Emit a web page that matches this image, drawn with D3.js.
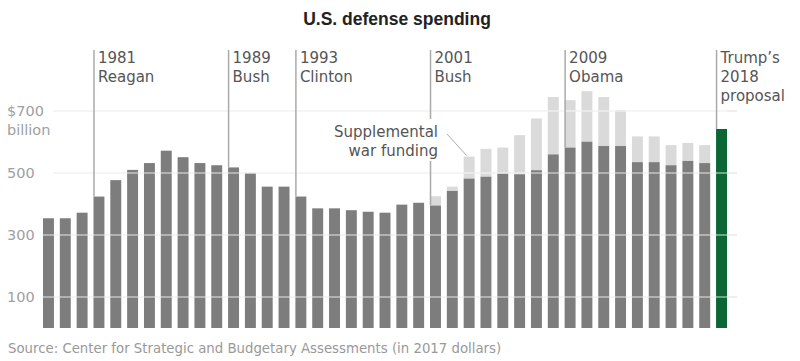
<!DOCTYPE html>
<html><head><meta charset="utf-8">
<script src="https://cdn.jsdelivr.net/npm/d3@7"></script>
<style>
body{margin:0;background:#fff;}
svg{display:block;}
</style></head>
<body><svg id="c" width="800" height="361"></svg>
<script>
const years = d3.range(1978, 2019);
const baseSpending = [354,354,372,424,477,510,532,572,551,532,525,518,499,456,456,424,386,386,380,375,372,398,404,395,442,482,488,498,496,509,560,582,601,587,587,535,535,525,539,532,642];
const warFunding   = [0,0,0,0,0,0,0,0,0,0,0,0,0,0,0,0,0,0,0,0,0,0,0,30,14,71,90,84,126,167,185,153,163,158,116,83,83,65,58,58,0];
const tickValues = [100,300,500,700];
const tickLabels = ["100","300","500","$700"];
const presidents = [
  {year:1981, lines:["1981","Reagan"]},
  {year:1989, lines:["1989","Bush"]},
  {year:1993, lines:["1993","Clinton"]},
  {year:2001, lines:["2001","Bush"]},
  {year:2009, lines:["2009","Obama"]},
  {year:2018, lines:["Trump\u2019s","2018","proposal"]}
];
const proposalYear = 2018;

const data = years.map((y,i)=>({year:y, base:baseSpending[i], war:warFunding[i]}));

const svg = d3.select("#c");
const FONT = "'DejaVu Sans', sans-serif";

const x = d3.scaleBand().domain(years).range([43, 727]).paddingInner(0.35).paddingOuter(0);
const y = d3.scaleLinear().domain([0,700]).range([328,111]);

// title
svg.append("text").attr("x",397).attr("y",25).attr("text-anchor","middle")
  .attr("font-family","'Liberation Sans', Arial, sans-serif").attr("font-weight","bold")
  .attr("font-size",17.5).attr("fill","#222").text("U.S. defense spending");

// gridlines behind
svg.append("g").selectAll("line").data(tickValues).join("line")
  .attr("x1",53).attr("x2",737).attr("y1",d=>y(d)).attr("y2",d=>y(d))
  .attr("stroke","#e8e8e8").attr("stroke-width",1.5);

// tick labels
svg.append("g").selectAll("text").data(tickValues).join("text")
  .attr("x",7).attr("y",d=>y(d)).attr("dy","0.36em")
  .attr("font-family",FONT).attr("font-size",14.5).attr("fill","#a0a0a0")
  .text((d,i)=>tickLabels[i]);
svg.append("text").attr("x",7).attr("y",y(700)+24).attr("font-family",FONT)
  .attr("font-size",14.5).attr("fill","#a0a0a0").text("billion");

// war funding (stacked on top)
svg.append("g").selectAll("rect").data(data.filter(d=>d.war>0)).join("rect")
  .attr("x",d=>x(d.year)).attr("width",x.bandwidth())
  .attr("y",d=>y(d.base+d.war)).attr("height",d=>y(d.base)-y(d.base+d.war))
  .attr("fill","#dadada");

// base bars
svg.append("g").selectAll("rect").data(data).join("rect")
  .attr("x",d=>x(d.year)).attr("width",x.bandwidth())
  .attr("y",d=>y(d.base)).attr("height",d=>y(0)-y(d.base))
  .attr("fill",d=>d.year===proposalYear?"#0a6634":"#7d7d7d");

// gridlines over bars
svg.append("g").selectAll("line").data(tickValues).join("line")
  .attr("x1",43).attr("x2",727).attr("y1",d=>y(d)).attr("y2",d=>y(d))
  .attr("stroke","#fff").attr("stroke-opacity",0.55).attr("stroke-width",1.5);

// president annotation lines & labels
const ann = svg.append("g");
presidents.forEach(p=>{
  const d = data.find(e=>e.year===p.year);
  const lx = x(p.year)+0.5;
  if(p.year===2001){
    ann.append("line").attr("x1",lx).attr("x2",lx).attr("y1",50).attr("y2",119)
      .attr("stroke","#aaa").attr("stroke-width",1.5);
    ann.append("line").attr("x1",lx).attr("x2",lx).attr("y1",161).attr("y2",y(d.base))
      .attr("stroke","#aaa").attr("stroke-width",1.5);
  } else {
    ann.append("line").attr("x1",lx).attr("x2",lx).attr("y1",50).attr("y2",y(d.base))
      .attr("stroke","#aaa").attr("stroke-width",1.5);
  }
  const t = ann.append("text").attr("font-family",FONT).attr("font-size",15)
    .attr("fill","#555");
  p.lines.forEach((l,i)=>{
    t.append("tspan").attr("x",lx+4).attr("y",63+i*19).text(l);
  });
});

// supplemental war funding label
const s = svg.append("text").attr("font-family",FONT).attr("font-size",15)
  .attr("fill","#555").attr("text-anchor","end");
s.append("tspan").attr("x",438).attr("y",137).text("Supplemental");
s.append("tspan").attr("x",438).attr("y",156).text("war funding");
svg.append("line").attr("x1",447).attr("y1",134)
  .attr("x2",x(2003)+3).attr("y2",y(baseSpending[25]+warFunding[25])-1)
  .attr("stroke","#aaa").attr("stroke-width",1);

// source
svg.append("text").attr("x",8).attr("y",353).attr("font-family",FONT)
  .attr("font-size",13.3).attr("fill","#999")
  .text("Source: Center for Strategic and Budgetary Assessments (in 2017 dollars)");
</script></body></html>
